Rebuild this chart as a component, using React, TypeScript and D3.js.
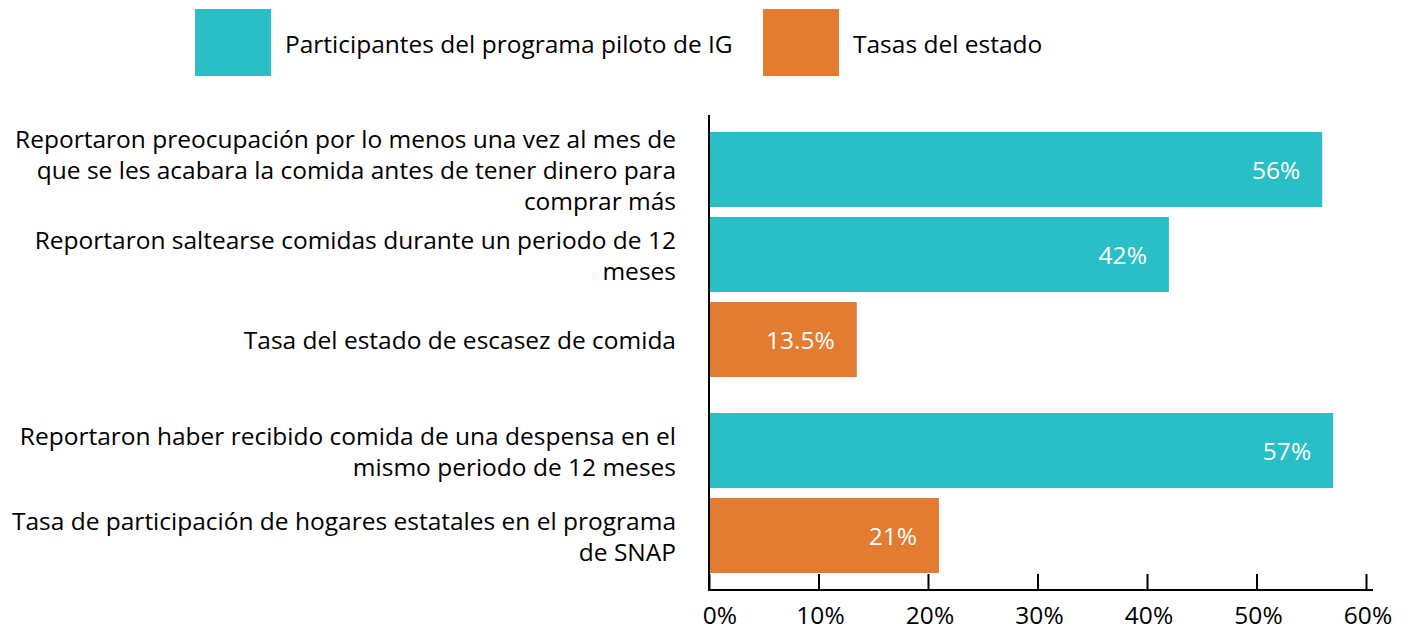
import React, { useEffect, useRef } from "react";
import * as d3 from "d3";

// categories (line breaks as in the original chart)
const categories = [
  "Reportaron preocupación por lo menos una vez al mes de\nque se les acabara la comida antes de tener dinero para\ncomprar más",
  "Reportaron saltearse comidas durante un periodo de 12\nmeses",
  "Tasa del estado de escasez de comida",
  "Reportaron haber recibido comida de una despensa en el\nmismo periodo de 12 meses",
  "Tasa de participación de hogares estatales en el programa\nde SNAP",
];
const values = [56, 42, 13.5, 57, 21];
const valueLabels = ["56%", "42%", "13.5%", "57%", "21%"];
const seriesOf = ["pilot", "pilot", "state", "pilot", "state"];
const groupOf = [0, 0, 0, 1, 1];

const seriesKeys = ["pilot", "state"];
const seriesNames = ["Participantes del programa piloto de IG", "Tasas del estado"];
const seriesColors = ["#2abec6", "#e37b31"];

const xTicks = [0, 10, 20, 30, 40, 50, 60];

const FONT = "'Open Sans', Lato, sans-serif";
const FS = 24.5;

export default function App() {
  const ref = useRef<SVGSVGElement | null>(null);

  useEffect(() => {
    document.body.style.margin = "0";
    const svg = d3.select(ref.current);
    svg.selectAll("*").remove();

    const left = 709, right = 1366;
    const x = d3.scaleLinear().domain([0, 60]).range([left, right]);
    const y = d3
      .scaleBand<number>()
      .domain(d3.range(categories.length))
      .range([127, 552])
      .paddingInner(10 / 85)
      .paddingOuter(5 / 85);
    const groupGap = 26;
    const yPos = (i: number) => (y(i) as number) + groupOf[i] * groupGap;
    const color = d3.scaleOrdinal<string, string>().domain(seriesKeys).range(seriesColors);

    // legend
    const legend = svg.append("g");
    const legendX = [195, 763];
    seriesKeys.forEach((k, i) => {
      legend.append("rect")
        .attr("x", legendX[i]).attr("y", 9)
        .attr("width", 76).attr("height", 67)
        .attr("fill", color(k));
      legend.append("text")
        .attr("x", legendX[i] + 90).attr("y", 43)
        .attr("dominant-baseline", "central")
        .attr("font-family", FONT).attr("font-size", FS)
        .attr("fill", "#000")
        .text(seriesNames[i]);
    });

    // bars
    const bars = svg.append("g");
    bars.selectAll("rect")
      .data(values)
      .join("rect")
      .attr("x", x(0))
      .attr("y", (d, i) => yPos(i))
      .attr("width", (d) => x(d) - x(0))
      .attr("height", y.bandwidth())
      .attr("fill", (d, i) => color(seriesOf[i]));

    // value labels
    bars.selectAll(".val")
      .data(values)
      .join("text")
      .attr("class", "val")
      .attr("x", (d) => x(d) - 22)
      .attr("y", (d, i) => yPos(i) + y.bandwidth() / 2)
      .attr("dominant-baseline", "central")
      .attr("text-anchor", "end")
      .attr("font-family", FONT).attr("font-size", FS)
      .attr("fill", "#fff")
      .text((d, i) => valueLabels[i]);

    // category labels
    const lineH = 31;
    categories.forEach((c, i) => {
      const lines = c.split("\n");
      const cy = yPos(i) + y.bandwidth() / 2 - ((lines.length - 1) * lineH) / 2;
      const t = svg.append("text")
        .attr("text-anchor", "end")
        .attr("font-family", FONT).attr("font-size", FS)
        .attr("fill", "#000");
      lines.forEach((l, j) => {
        t.append("tspan")
          .attr("x", 676)
          .attr("y", cy + j * lineH)
          .attr("dominant-baseline", "central")
          .text(l);
      });
    });

    // x axis
    const axisY = 590;
    const xAxis = svg.append("g")
      .attr("transform", `translate(0,${axisY})`)
      .call(d3.axisTop(x).tickValues(xTicks).tickSize(16).tickFormat(() => ""));
    xAxis.select(".domain").remove();
    xAxis.selectAll(".tick line").attr("stroke", "#000").attr("stroke-width", 2);
    svg.append("line")
      .attr("x1", left - 1).attr("x2", right + 7)
      .attr("y1", axisY).attr("y2", axisY)
      .attr("stroke", "#000").attr("stroke-width", 2);
    svg.append("line")
      .attr("x1", left).attr("x2", left)
      .attr("y1", 115).attr("y2", axisY + 1)
      .attr("stroke", "#000").attr("stroke-width", 2);

    svg.append("g").selectAll("text")
      .data(xTicks)
      .join("text")
      .attr("x", (d) => x(d) + (d === 0 ? 11 : 2))
      .attr("y", 614)
      .attr("dominant-baseline", "central")
      .attr("text-anchor", "middle")
      .attr("font-family", FONT).attr("font-size", FS)
      .attr("fill", "#000")
      .text((d) => `${d}%`);
  }, []);

  return <svg ref={ref} width={1406} height={629} style={{ display: "block", background: "#fff" }} />;
}
